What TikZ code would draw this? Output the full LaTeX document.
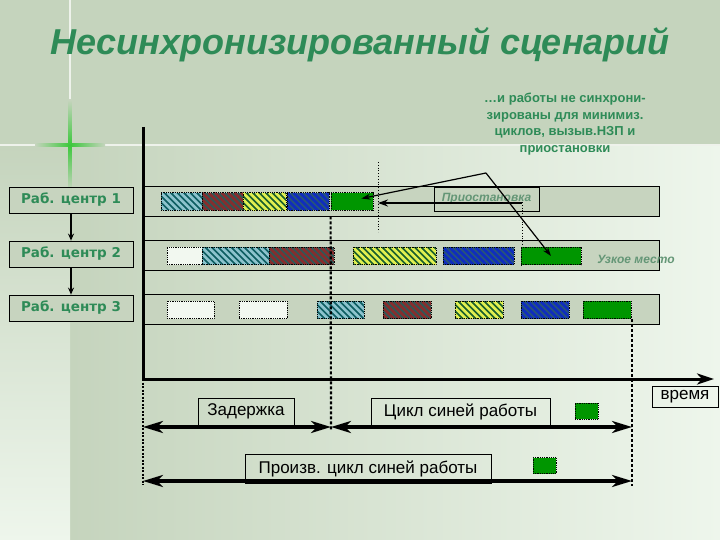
\documentclass[tikz,border=0pt]{standalone}
\usepackage{fontspec}
\setmainfont{Liberation Sans}
\newfontfamily\wcfont{DejaVu Sans}
\usetikzlibrary{arrows.meta,positioning}

\definecolor{sage}{RGB}{197,212,189}
\definecolor{paleback}{RGB}{238,246,236}
\definecolor{glowgreen}{RGB}{60,200,60}
\definecolor{titlegreen}{RGB}{46,139,87}
\definecolor{notegreen}{RGB}{100,150,118}
\definecolor{bandfill}{RGB}{199,212,191}
\definecolor{tealdark}{RGB}{14,94,98}
\definecolor{teallight}{RGB}{140,195,205}
\definecolor{reddark}{RGB}{44,90,88}
\definecolor{redline}{RGB}{135,45,45}
\definecolor{yeldark}{RGB}{25,95,45}
\definecolor{yelline}{RGB}{225,240,80}
\definecolor{bluedark}{RGB}{40,85,120}
\definecolor{blueline}{RGB}{15,45,190}
\definecolor{bargreen}{RGB}{0,150,0}
\definecolor{barwhite}{RGB}{242,248,240}

\tikzset{stripes/.style 2 args={fill=#1, path picture={
    \foreach \k in {-26,-19.5,...,91}
        \draw[#2, solid, line width=2.6pt] ([xshift=\k pt]path picture bounding box.north west) -- ++(26pt,-26pt);}}}

\tikzstyle{titletext}=[font=\fontsize{36}{40}\selectfont\bfseries\itshape, text=titlegreen]
\tikzstyle{notetext}=[font=\fontsize{13}{16.5}\selectfont\bfseries, text=titlegreen, align=center]
\tikzstyle{wcbox}=[draw=black, fill=bandfill, line width=0.8pt, minimum width=124pt, minimum height=26pt, font=\wcfont\fontsize{13.5}{15}\selectfont\bfseries, text=titlegreen]
\tikzstyle{wcarrow}=[draw, line width=2pt, -{Stealth[length=7pt,width=6pt]}]
\tikzstyle{band}=[draw=black, fill=bandfill, line width=0.8pt, minimum width=516pt, minimum height=30pt, inner sep=0pt]
\tikzstyle{bar}=[draw=black, densely dotted, line width=0.8pt, inner sep=0pt, minimum height=17.5pt]
\tikzstyle{barteal}=[stripes={tealdark}{teallight}]
\tikzstyle{barred}=[stripes={reddark}{redline}]
\tikzstyle{baryel}=[stripes={yeldark}{yelline}]
\tikzstyle{barblue}=[stripes={bluedark}{blueline}]
\tikzstyle{bargrn}=[fill=bargreen]
\tikzstyle{barwht}=[fill=barwhite]
\tikzstyle{pausebox}=[draw=black, line width=0.8pt, minimum width=105pt, minimum height=24pt, font=\fontsize{12}{14}\selectfont\bfseries\itshape, text=notegreen]
\tikzstyle{notelabel}=[font=\fontsize{12}{14}\selectfont\bfseries\itshape, text=notegreen]
\tikzstyle{callarrow}=[draw, line width=1.2pt, -{Stealth[length=9pt,width=6pt]}]
\tikzstyle{pausearrow}=[draw, line width=2pt, -{Stealth[length=10pt,width=7pt]}]
\tikzstyle{holdline}=[draw, dotted, line width=0.8pt]
\tikzstyle{axisline}=[draw, line width=3pt, -{Stealth[length=17pt,width=11pt,inset=5pt]}]
\tikzstyle{cutline}=[draw, line width=2.2pt, dash pattern=on 3pt off 2pt]
\tikzstyle{span}=[draw, line width=4pt, {Stealth[length=20pt,width=12pt,inset=6pt]}-{Stealth[length=20pt,width=12pt,inset=6pt]}]
\tikzstyle{spanbox}=[draw=black, line width=0.8pt, minimum height=27pt, inner sep=0pt, font=\fontsize{17}{20}\selectfont]
\tikzstyle{greensq}=[draw=black, densely dotted, line width=0.8pt, fill=bargreen, minimum width=23pt, minimum height=16pt, inner sep=0pt]

\begin{document}
\begin{tikzpicture}[x=1pt,y=-1pt]
\useasboundingbox (0,0) rectangle (720,540);

% background
\fill[sage] (0,0) rectangle (720,540);
\shade[left color=sage, right color=paleback] (70,145) rectangle (720,540);
\shade[top color=sage, bottom color=paleback] (0,145) rectangle (70,540);
\draw[white!70!sage, line width=1.5pt] (0,145) -- (720,145);
\draw[white!70!sage, line width=1.5pt] (70,0) -- (70,190);
\shade[left color=sage, right color=sage, middle color=glowgreen] (35,143.5) rectangle (105,146.5);
\shade[top color=sage, bottom color=sage, middle color=glowgreen] (68.5,100) rectangle (71.5,190);

% title and note
\node[titletext] (title) at (360,45) {Несинхронизированный сценарий};
\node[notetext] (note) at (565,124) {…и работы не синхрони-\\зированы для минимиз.\\циклов, вызыв.НЗП и\\приостановки};

% work centres
\foreach \y/\n in {200/1,254/2,308/3}
    \node[wcbox] (wc\n) at (71,\y) {Раб. центр \n};
\draw[wcarrow] (wc1) -- (wc2);
\draw[wcarrow] (wc2) -- (wc3);

% rows
\foreach \y/\n in {201/1,255/2,309/3}
    \node[band] (row\n) at (401,\y) {};

\foreach \a/\b/\st [count=\i] in {161/202/barteal, 202/243/barred, 243/286/baryel, 287/329/barblue, 331/373/bargrn}
    \node[bar,\st,minimum width={(\b-\a)*1pt}] (ra\i) at ({(\a+\b)/2},201.5) {};
\foreach \a/\b/\st [count=\i] in {167/202/barwht, 202/269/barteal, 269/334/barred, 353/436/baryel, 443/514/barblue, 521/581/bargrn}
    \node[bar,\st,minimum width={(\b-\a)*1pt}] (rb\i) at ({(\a+\b)/2},256) {};
\foreach \a/\b/\st [count=\i] in {167/214/barwht, 239/287/barwht, 317/364/barteal, 383/431/barred, 455/503/baryel, 521/569/barblue, 583/631/bargrn}
    \node[bar,\st,minimum width={(\b-\a)*1pt}] (rc\i) at ({(\a+\b)/2},310) {};

% pause
\coordinate (hold) at (378,162);
\coordinate (holdend) at (378,232);
\coordinate (wait) at (522,202);
\coordinate (waitend) at (522,246);
\draw[holdline] (hold) -- (holdend);
\draw[holdline] (wait) -- (waitend);
\node[pausebox] (pause) at (486.5,199) {Приостановка};
\node[notelabel] (neck) at (636,259) {Узкое место};
\coordinate (pr) at (522,203);
\coordinate (pl) at (378,203);
\draw[pausearrow] (pr) -- (pl);

\coordinate (apex) at (486,173);
\draw[callarrow] (apex) -- ([xshift=-12pt,yshift=3pt]ra5.east);
\draw[callarrow] (apex) -- (rb6.center);

% time axis
\coordinate (top) at (143,127);
\coordinate (origin) at (143,379);
\coordinate (tip) at (714,379);
\draw[axisline] (top) -- (origin) -- (tip);

\coordinate (d0) at (143,427);
\coordinate (d1) at (331,427);
\coordinate (d2) at (632,427);
\coordinate (e0) at (143,481);
\coordinate (e2) at (632,481);

\draw[cutline] (ra5.south west |- row1.south) -- (331,430);
\draw[cutline] (632,319) -- (632,486);
\draw[cutline, line width=1.5pt, dash pattern=on 2pt off 1.5pt] (origin) -- (143,485);

\node[spanbox, minimum width=96pt] (delay) at (246,411.5) {Задержка};
\node[spanbox, minimum width=179pt] (cycle) at (460.5,411.5) {Цикл синей работы};
\node[spanbox, minimum width=246pt, minimum height=29pt] (lead) at (368,468.5) {Произв. цикл синей работы};
\node[spanbox, minimum width=66pt, minimum height=21pt] (time) at (685,396.5) {время};
\node[greensq] (sq1) at (586.5,411) {};
\node[greensq] (sq2) at (544.5,465.5) {};

\draw[span] (d0) -- (d1);
\draw[span] (d1) -- (d2);
\draw[span] (e0) -- (e2);

\end{tikzpicture}
\end{document}
